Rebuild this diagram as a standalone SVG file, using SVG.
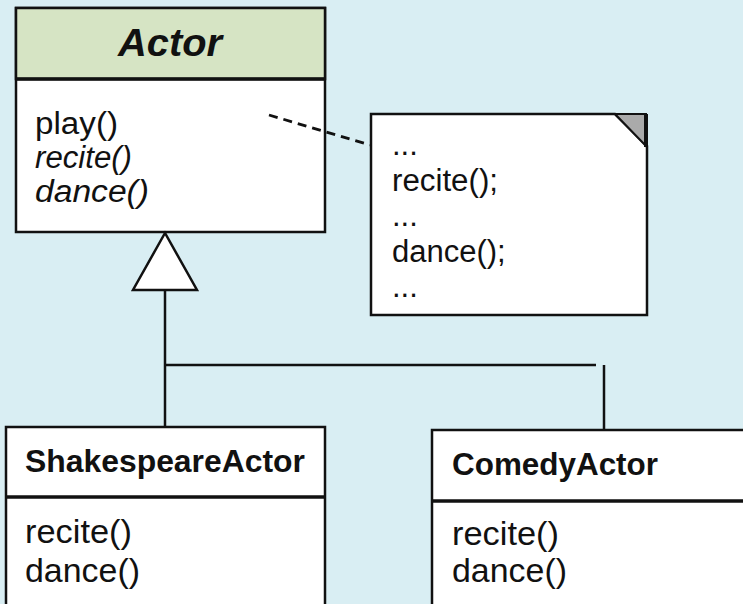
<svg xmlns="http://www.w3.org/2000/svg" width="743" height="604" viewBox="0 0 743 604">
<style>
.box{fill:#ffffff;stroke:#111;stroke-width:2.5}
.hdr{fill:#d6e4c4;stroke:#111;stroke-width:2.5}
.div{stroke:#111;stroke-width:3.5}
.ln{stroke:#111;stroke-width:2.5;fill:none}
text{font-family:"Liberation Sans",Arial,sans-serif;fill:#111}
.t{font-size:33px}
.a{font-size:31px}
.n{font-size:31px}
.b{font-size:31px;font-weight:bold}
</style>
<rect x="0" y="0" width="743" height="604" fill="#d9eef3"/>
<g id="actor">
<rect class="box" x="16" y="8" width="309" height="224"/>
<rect class="hdr" x="16" y="8" width="309" height="71"/>
<line class="div" x1="16" y1="79" x2="325" y2="79"/>
<text x="118" y="56" font-size="38" font-weight="bold" font-style="italic" textLength="104" lengthAdjust="spacingAndGlyphs">Actor</text>
<text class="a" x="35" y="134" textLength="83" lengthAdjust="spacingAndGlyphs">play()</text>
<text class="a" x="35" y="168" font-style="italic" textLength="97" lengthAdjust="spacingAndGlyphs">recite()</text>
<text class="a" x="35" y="202" font-style="italic" textLength="114" lengthAdjust="spacingAndGlyphs">dance()</text>
</g>
<g id="note">
<polygon points="371,114 615,114 647,146 647,315 371,315" fill="#ffffff" stroke="#111" stroke-width="2.5"/>
<polygon points="615,114 646,114 646,146" fill="#aaaaaa" stroke="#111" stroke-width="2"/>
<line x1="646" y1="114" x2="646" y2="147" stroke="#111" stroke-width="4"/>
<text class="n" x="392" y="155">...</text>
<text class="n" x="392" y="190.5" textLength="106" lengthAdjust="spacingAndGlyphs">recite();</text>
<text class="n" x="392" y="226">...</text>
<text class="n" x="392" y="261.5">dance();</text>
<text class="n" x="392" y="297">...</text>
</g>
<g id="shakespeare">
<rect class="box" x="6" y="427" width="319" height="190"/>
<line class="div" x1="6" y1="497" x2="325" y2="497"/>
<text class="b" x="25" y="472" textLength="280" lengthAdjust="spacingAndGlyphs">ShakespeareActor</text>
<text class="t" x="25" y="543" textLength="107" lengthAdjust="spacingAndGlyphs">recite()</text>
<text class="t" x="25" y="582" textLength="115" lengthAdjust="spacingAndGlyphs">dance()</text>
</g>
<g id="comedy">
<rect class="box" x="432" y="430" width="330" height="190"/>
<line class="div" x1="432" y1="501" x2="762" y2="501"/>
<text class="b" x="452" y="475" textLength="206" lengthAdjust="spacingAndGlyphs">ComedyActor</text>
<text class="t" x="452" y="545" textLength="107" lengthAdjust="spacingAndGlyphs">recite()</text>
<text class="t" x="452" y="582" textLength="115" lengthAdjust="spacingAndGlyphs">dance()</text>
</g>
<g id="connectors">
<line x1="269" y1="115" x2="370" y2="145" stroke="#111" stroke-width="2.8" stroke-dasharray="9 6"/>
<polygon points="165,233 133,290 197,290" fill="#ffffff" stroke="#111" stroke-width="2.5"/>
<line class="ln" x1="165" y1="290" x2="165" y2="427"/>
<line class="ln" x1="165" y1="365" x2="596" y2="365"/>
<line class="ln" x1="604" y1="365" x2="604" y2="429"/>
</g>
</svg>
